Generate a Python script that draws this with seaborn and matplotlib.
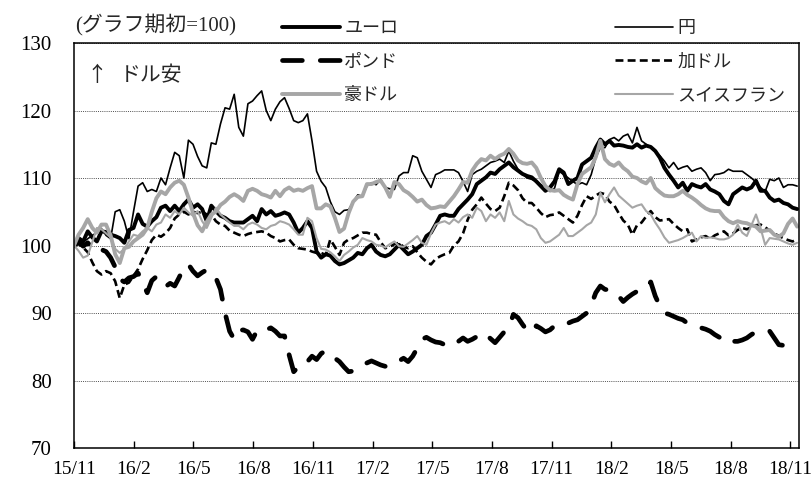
import numpy as np
import matplotlib
matplotlib.use("Agg")
import matplotlib.pyplot as plt
import seaborn as sns

# Weekly index values, first week of the period = 100
tick_labels = ["15/11", "16/2", "16/5", "16/8", "16/11", "17/2", "17/5",
               "17/8", "17/11", "18/2", "18/5", "18/8", "18/11"]
tick_months = [0, 3, 6, 9, 12, 15, 18, 21, 24, 27, 30, 33, 36]

euro = [100, 101.1, 100.6, 102.1, 101.2, 100.6, 102.1, 102, 101.6, 101.4,
        101.1, 100.4, 102.3, 102.6, 104.6, 103.2, 102.8, 103.6, 104.2, 105.6,
        105.9, 105.1, 105.9, 105.1, 106.1, 106.8, 105.6, 106.1, 105.4, 103.6,
        105.9, 105.1, 104.4, 104.1, 103.6, 103.4, 103.4, 103.4, 103.9, 104.4,
        103.6, 105.4, 104.6, 105.1, 104.4, 104.6, 104.9, 104.6, 103.4, 101.9,
        102.6, 103.6, 102.6, 99.1, 98.2, 98.7, 98.5, 97.7, 97.2, 97.4,
        97.8, 98.2, 98.9, 98.7, 99.6, 100.1, 99.1, 98.6, 98.4, 98.7,
        99.4, 100.1, 99.4, 98.7, 99.1, 99.6, 100.1, 101.4, 101.9, 103.1,
        104.4, 104.6, 104.4, 104.4, 105.4, 106.1, 106.8, 107.6, 109.1, 109.6,
        110.1, 110.8, 110.6, 111.3, 111.8, 112.3, 111.6, 111.1, 110.6, 110.3,
        110.1, 109.5, 108.8, 108.1, 108.6, 109.5, 111.3, 110.8, 109.1, 109.6,
        110, 112, 112.5, 113, 114.5, 115.7, 115, 115.5, 114.8, 114.9,
        114.8, 114.6, 114.5, 115, 114.5, 114.8, 114.6, 114, 113, 111.5,
        110.5, 109.6, 108.6, 109.3, 108.1, 109.1, 108.8, 108.6, 109.1, 108.3,
        108, 107.6, 106.6, 106.1, 107.6, 108.1, 108.6, 108.3, 108.6, 109.6,
        108.1, 108.1, 107.1, 106.6, 106.8, 106.3, 106.1, 105.6, 105.4]

yen = [100, 101, 100.5, 101, 101.5, 101.9, 102.5, 101.5, 101, 105,
       105.3, 103.6, 101, 105, 108.8, 109.3, 108, 108.3, 108, 110,
       109, 111.5, 113.8, 113.3, 110, 115.6, 115, 113.2, 111.8, 111.5,
       115.2, 115, 118, 120.4, 120.2, 122.4, 117.5, 116.2, 121, 121.4,
       122.2, 122.9, 120, 118.5, 120.2, 121.3, 121.9, 120.3, 118.5, 118.2,
       118.5, 119.5, 115.5, 111, 109.5, 108.6, 106.5, 105, 104.6, 105.2,
       105.3, 106.5, 107.5, 107.3, 108.8, 109.3, 109, 109.8, 108.6, 108.4,
       108.3, 110.3, 110.8, 110.8, 113.3, 113, 111, 109.8, 108.6, 110.5,
       110.8, 111.2, 111.2, 111.2, 110.8, 109.5, 108, 110.5, 111, 111.3,
       111.8, 112.3, 112.5, 112.8, 112.3, 114, 112.5, 111.3, 110.6, 110,
       109.8, 109.5, 109, 108.6, 108, 108.5, 111, 110.5, 110, 109.5,
       109, 109.3, 109, 110.5, 113, 114.5, 114.5, 115.7, 116, 115.5,
       116.2, 116.5, 115.2, 117.5, 115.5, 115, 114.5, 114, 113.3, 112.5,
       111.5, 112.3, 111.3, 111.6, 111.8, 111, 111.3, 111.5, 110.8, 109.6,
       110.5, 110.6, 110.8, 111.3, 111, 111, 111, 110.5, 110, 109.4,
       108.6, 108, 109.8, 109.6, 110, 108.6, 109, 109, 108.8]

pound = [100, 100.6, 99.9, 100.4, 99.6, 99.9, 99.4, 99.1, 98.2, 96.8,
         95, 94.6, 95.2, 95.4, 95.9, 94.5, 93, 94.8, 95.4, 94.6,
         93.9, 94.4, 94, 95.3, 96.8, 97.2, 96.2, 95.5, 96, 96.4,
         95.5, 95.2, 93.5, 90, 87.3, 86.1, 87.4, 87.5, 87.2, 86.1,
         87.4, 87.2, 87.5, 87.8, 87.3, 86.6, 86.6, 83.8, 81.3, 82,
         82.8, 82.8, 83.6, 83.1, 84, 84.4, 83.8, 83.3, 82.8, 82,
         81.3, 81.4, 82, 82.3, 82.6, 82.9, 82.6, 82.3, 82.1, 82.6,
         82.6, 82.9, 83.3, 82.8, 83.6, 84.8, 86.1, 86.4, 86, 85.7,
         85.6, 85.3, 85, 85.4, 85.8, 86.3, 85.8, 86.1, 86.5, 87.1,
         86.8, 86.2, 85.6, 86.4, 87.2, 87.8, 89.8, 89.3, 88.3, 87.4,
         87.1, 88.1, 87.7, 87.2, 87.5, 88.1, 88.3, 88.6, 88.5, 88.8,
         89, 89.5, 90, 91.2, 93, 94, 93.5, 93.4, 93.2, 92.5,
         91.7, 92.3, 92.8, 93.2, 93.5, 93.7, 94.6, 92.5, 91, 90,
         89.8, 89.5, 89.2, 89, 88.5, 88.3, 88, 87.8, 87.6, 87.3,
         86.8, 86.4, 85.6, 85.7, 85.8, 85.8, 86, 86.3, 86.8, 87.2,
         87.3, 87.2, 87.3, 86.3, 85.3, 85.2, 85.4, 85.2, 85.2]

cad = [100, 100.2, 99.7, 99, 97.5, 96.2, 95.7, 96.2, 95.9, 94.7,
       92.2, 94.2, 94.5, 95.5, 96.5, 98, 99.3, 100.8, 101.6, 101.3,
       101.8, 102.6, 104, 104.6, 105, 104.6, 105, 104.8, 105, 104.6,
       104.6, 103.6, 103.1, 102.9, 102.2, 101.9, 101.6, 101.4, 101.7, 101.9,
       102, 102.1, 101.9, 101.4, 101.1, 100.6, 100.8, 100.9, 100.1, 99.6,
       99.5, 99.4, 99.1, 98.9, 98.9, 98.6, 100.9, 99.8, 98.6, 100.4,
       100.9, 101.1, 101.5, 101.9, 101.9, 101.7, 101.6, 100.5, 99.6, 99.8,
       100.2, 100.4, 99.8, 99.6, 99.9, 99, 98.2, 97.6, 97.2, 98,
       98.4, 98.7, 98.9, 100, 100.6, 101.8, 103.8, 105.3, 106.1, 107.1,
       106.2, 105.4, 105.1, 105.6, 107.3, 109.3, 108.9, 108.2, 107, 106.3,
       106.3, 105.6, 104.8, 104.2, 104.5, 104.6, 104.9, 104.4, 103.9, 103.4,
       104.4, 106, 107.3, 106.9, 107.4, 107.8, 107.6, 106.5, 106, 104.8,
       103.7, 103.1, 101.6, 103, 103.4, 104.3, 105.1, 104.2, 103.7, 103.8,
       103.9, 103.2, 102.6, 102.1, 102.4, 100.6, 100.9, 101.2, 101.4, 101,
       101.5, 101.8, 102.1, 101.5, 101.8, 102.3, 102.6, 102.4, 102.7, 103,
       103.1, 102.7, 102.2, 101.8, 101.4, 101.1, 100.8, 100.6, 100.9]

aud = [100, 101.6, 102.6, 103.9, 102.6, 101.9, 103.1, 103.1, 101.5, 98.7,
       97.4, 99.6, 99.8, 100.6, 101.1, 101.6, 102.6, 105, 107, 108,
       107.6, 108.6, 109.3, 109.6, 109, 107.1, 104.8, 103, 102.1, 103.5,
       104.6, 105, 106, 106.5, 107.2, 107.6, 107.2, 106.6, 108.1, 108.4,
       108.1, 107.6, 107.4, 107.1, 108.1, 107.3, 108.2, 108.6, 108.1, 108.3,
       108.1, 108.5, 108.8, 105.5, 105.5, 106.1, 105.8, 104.1, 102, 102.5,
       104.8, 106.5, 107.2, 107.3, 109.1, 109.1, 109.4, 109.6, 108.6, 107.2,
       109.4, 109.1, 108.2, 107.8, 107.2, 106.5, 106.8, 106, 105.5, 105.6,
       105.8, 105.7, 106.5, 107.3, 108.3, 109.4, 109.3, 111.1, 112.1, 112.8,
       112.6, 113.3, 112.8, 113.3, 113.6, 114.3, 113.6, 112.6, 112.2, 112.1,
       112.3, 111.5, 110, 108.8, 108.2, 108.1, 108.2, 107.5, 107.1, 106.8,
       109.1, 110.6, 111.1, 111.6, 113.1, 115.5, 112.8, 112.1, 111.8, 112.3,
       111.5, 111, 110.2, 110, 109.5, 109.2, 110, 108.5, 107.9, 107.4,
       107.3, 107.3, 107.6, 108.1, 107.5, 107.1, 106.6, 106, 105.5, 105.2,
       105.1, 105.1, 104.2, 103.6, 103.3, 103.6, 103.4, 103.3, 103, 102.8,
       102.1, 102.2, 102.3, 101.6, 101.3, 101.8, 103.2, 104, 102.8]

chf = [100, 99.2, 98.2, 98.5, 100.5, 102.6, 102.4, 101.8, 101.2, 99.5,
       98.9, 99.5, 100.6, 101.6, 101.4, 102.1, 102.6, 102.1, 103.1, 103.4,
       104.6, 104.1, 105.1, 104.6, 105.6, 104.9, 104.4, 105.1, 103.6, 102.6,
       104.1, 105.6, 104.6, 104, 103.4, 102.9, 102.9, 102.4, 103.1, 103.4,
       103.1, 102.6, 102.4, 102.9, 103.1, 103.6, 103.4, 103.1, 102.4, 101.6,
       101.6, 104.1, 103.6, 101.1, 99.5, 99.4, 99, 98.4, 97.7, 98.6,
       99.1, 99.7, 100.1, 101.1, 100.8, 100.6, 100.1, 100, 99.7, 100.2,
       100.6, 99.9, 99.8, 100.3, 100.8, 101.4, 100.4, 100.1, 101.8, 103.1,
       103.4, 103.6, 103.2, 103.9, 103.4, 104.2, 104.6, 104.1, 105.6, 105.1,
       103.6, 104.6, 104.1, 104.9, 103.6, 106.6, 104.6, 104, 103.6, 103.1,
       102.9, 102.4, 101.1, 100.4, 100.6, 101.1, 101.6, 102.6, 101.4, 101.4,
       101.9, 102.4, 103, 103.4, 104.6, 107.8, 106.4, 107.6, 108.6, 107.4,
       106.8, 106.2, 105.6, 105.9, 106.1, 105.1, 104.6, 103.4, 102.4, 101.2,
       100.4, 100.6, 100.8, 101.1, 101.5, 101.9, 100.6, 101.4, 101.1, 101.2,
       101.1, 100.9, 100.9, 101.1, 101.6, 103.1, 101.9, 101.4, 103, 104.6,
       102.6, 100.1, 101.1, 101, 100.9, 100.6, 100.3, 100.1, 100.4]

weeks = np.arange(len(euro))
weeks_per_month = 365.25 / 12 / 7
tick_pos = [m * weeks_per_month for m in tick_months]

sns.set_theme(style="white")
plt.rcParams["font.family"] = ["Liberation Serif", "Noto Sans CJK JP", "DejaVu Sans"]

fig = plt.figure(figsize=(8.11, 4.82), dpi=100)
ax = fig.add_axes([74 / 811, 1 - 448 / 482, (799 - 74) / 811, (448 - 43) / 482])

grey = "#a6a6a6"
series = [
    ("ユーロ", euro, dict(color="black", linewidth=2.8), None),
    ("円", yen, dict(color="black", linewidth=1.2), None),
    ("ポンド", pound, dict(color="black", linewidth=3.4), (4.2, 3.8)),
    ("加ドル", cad, dict(color="black", linewidth=1.9), (3.0, 1.6)),
    ("豪ドル", aud, dict(color=grey, linewidth=2.8), None),
    ("スイスフラン", chf, dict(color=grey, linewidth=1.5), None),
]

lines = {}
for name, vals, style, dash in series:
    sns.lineplot(x=weeks, y=vals, ax=ax, label=name, legend=False, **style)
    line = ax.lines[-1]
    if dash is not None:
        line.set_dashes(dash)
        if name == "ポンド":
            line.set_dash_capstyle("round")
    lines[name] = line

ax.set_xlim(0, 158.4)
ax.set_ylim(70, 130)
ax.set_yticks([70, 80, 90, 100, 110, 120, 130])
ax.set_xticks(tick_pos)
ax.set_xticklabels(tick_labels)
ax.set_xlabel("")
ax.set_ylabel("")

ax.yaxis.grid(True, linestyle=(0, (1, 1.2)), color="#505050", linewidth=0.7)
ax.xaxis.grid(False)
ax.set_axisbelow(True)
for sp in ax.spines.values():
    sp.set_visible(True)
    sp.set_color("black")
    sp.set_linewidth(1.1)

ax.tick_params(axis="x", direction="in", length=5, width=1, pad=9,
               labelsize=14, colors="black", bottom=True)
ax.tick_params(axis="y", length=0, pad=16, labelsize=15, colors="black")

order = ["ユーロ", "ポンド", "豪ドル", "円", "加ドル", "スイスフラン"]
leg = ax.legend([lines[n] for n in order], order, ncol=2, frameon=False,
                loc="upper left", bbox_to_anchor=(282 / 811, 1 - 20 / 482),
                bbox_transform=fig.transFigure, borderaxespad=0, borderpad=0,
                fontsize=13, handlelength=3.2, handletextpad=0.25,
                columnspacing=12.0, labelspacing=0.92)

fig.text(75 / 811, 1 - 25 / 482, "(グラフ期初=100)", fontsize=15,
         ha="left", va="center")
fig.text(86 / 811, 1 - 75 / 482, "↑", fontsize=15, ha="left", va="center",
         family=["Noto Sans CJK JP", "DejaVu Sans"])
fig.text(120 / 811, 1 - 75 / 482, "ドル安", fontsize=15, ha="left", va="center",
         family=["Noto Sans CJK JP", "DejaVu Sans"])

fig.savefig("out.png", dpi=100)
